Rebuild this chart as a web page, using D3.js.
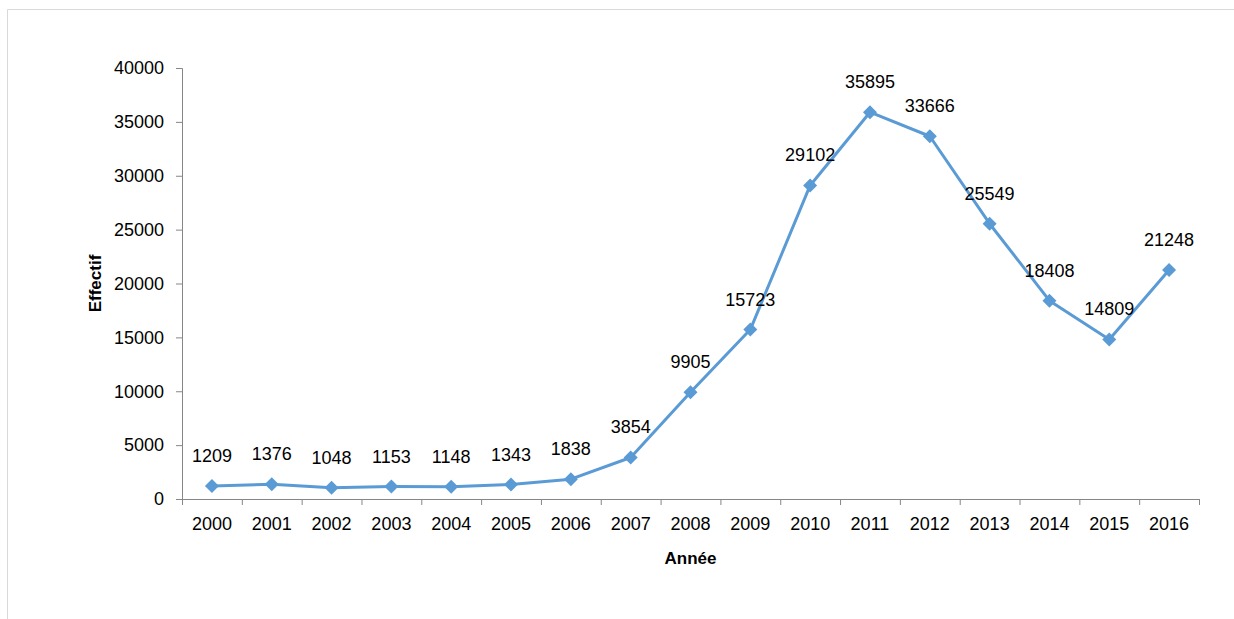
<!DOCTYPE html>
<head>
    <meta charset="utf-8" />
    <title>Effectif par année</title>
    <script src="https://d3js.org/d3.v7.min.js"></script>
    <style>
        body { margin: 0; background: #fff; font-family: "Liberation Sans", Arial, sans-serif; }
        svg text { fill: #000; }
    </style>
</head>
<body>
<svg width="1234" height="619"></svg>
<script>
    // data
    let years = ["2000", "2001", "2002", "2003", "2004", "2005", "2006", "2007", "2008",
                 "2009", "2010", "2011", "2012", "2013", "2014", "2015", "2016"];
    let effectif = [1209, 1376, 1048, 1153, 1148, 1343, 1838, 3854, 9905,
                    15723, 29102, 35895, 33666, 25549, 18408, 14809, 21248];
    let yTicks = [0, 5000, 10000, 15000, 20000, 25000, 30000, 35000, 40000];

    let svg = d3.select("svg");
    let plotLeft = 182, plotRight = 1199, plotTop = 68, plotBottom = 499;
    let axisColor = "#868686";
    let lineColor = "#5B9BD5";
    let fontFamily = "Liberation Sans, Arial, sans-serif";

    // outer chart border (only top and left edges visible)
    svg.append("path")
        .attr("d", "M7.5,619V9.5H1234")
        .attr("fill", "none")
        .attr("stroke", "#d9d9d9");

    let x = d3.scaleBand().domain(years).range([plotLeft, plotRight]);
    let y = d3.scaleLinear().domain([0, 40000]).range([plotBottom, plotTop]);

    // y axis
    let yAxis = svg.append("g")
        .attr("transform", "translate(" + plotLeft + ",0)")
        .call(d3.axisLeft(y).tickValues(yTicks).tickSize(6).tickPadding(12).tickFormat(d => d));
    yAxis.selectAll("path, line").attr("stroke", axisColor);
    yAxis.selectAll("text").attr("font-size", "18px").attr("font-family", fontFamily);

    // x axis, ticks between categories
    let xAxis = svg.append("g")
        .attr("transform", "translate(0," + plotBottom + ")")
        .call(d3.axisBottom(x).tickSize(0).tickPadding(18));
    xAxis.select("path").attr("stroke", axisColor);
    xAxis.selectAll("text").attr("font-size", "18px").attr("font-family", fontFamily);
    let bounds = years.map(d => x(d)).concat([plotRight]);
    xAxis.selectAll("line.sep")
        .data(bounds)
        .enter().append("line")
        .attr("class", "sep")
        .attr("x1", d => d + 0.5).attr("x2", d => d + 0.5)
        .attr("y1", 0).attr("y2", 6)
        .attr("stroke", axisColor);

    // axis titles
    svg.append("text")
        .attr("transform", "translate(101," + ((plotTop + plotBottom) / 2) + ") rotate(-90)")
        .attr("text-anchor", "middle")
        .attr("font-size", "17px")
        .attr("font-weight", "bold")
        .text("Effectif");
    svg.append("text")
        .attr("x", (plotLeft + plotRight) / 2)
        .attr("y", 564)
        .attr("text-anchor", "middle")
        .attr("font-size", "17px")
        .attr("font-weight", "bold")
        .text("Année");

    let cx = d => x(d) + x.bandwidth() / 2;

    // line
    let line = d3.line()
        .x((d, i) => cx(years[i]))
        .y(d => y(d));
    svg.append("path")
        .datum(effectif)
        .attr("d", line)
        .attr("fill", "none")
        .attr("stroke", lineColor)
        .attr("stroke-width", 3)
        .attr("stroke-linejoin", "round");

    // diamond markers
    let diamond = d3.symbol().type(d3.symbolSquare).size(98);
    svg.selectAll("path.marker")
        .data(effectif)
        .enter().append("path")
        .attr("class", "marker")
        .attr("d", diamond)
        .attr("transform", (d, i) => "translate(" + cx(years[i]) + "," + y(d) + ") rotate(45)")
        .attr("fill", lineColor);

    // value labels
    svg.selectAll("text.value")
        .data(effectif)
        .enter().append("text")
        .attr("class", "value")
        .attr("x", (d, i) => cx(years[i]))
        .attr("y", d => y(d) - 24)
        .attr("text-anchor", "middle")
        .attr("font-size", "18px")
        .text(d => d);
</script>
</body>
